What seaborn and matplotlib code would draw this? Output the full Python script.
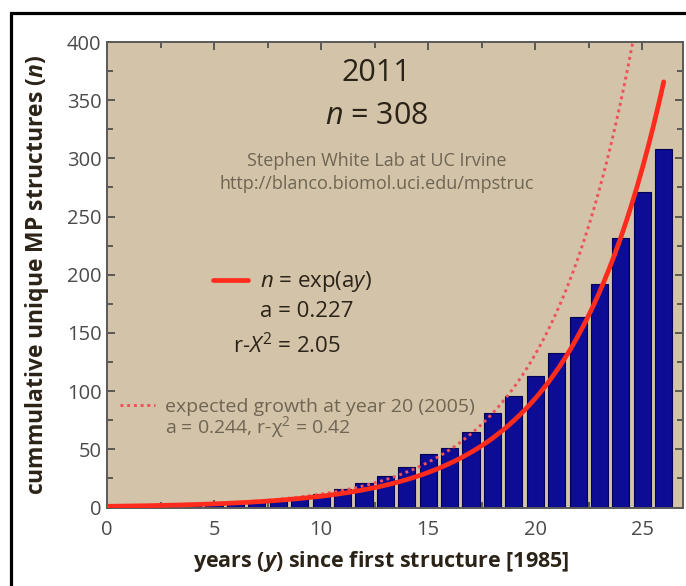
import numpy as np
import matplotlib
matplotlib.use("Agg")
import matplotlib.pyplot as plt
from matplotlib.lines import Line2D
from matplotlib.patches import Rectangle
from matplotlib.ticker import MultipleLocator
import seaborn as sns

# cumulative unique membrane protein structures per year since 1985
years = list(range(0, 27))
counts = [1, 1, 1, 2, 2, 2, 3, 5, 6, 9, 12, 16, 21, 27, 35, 46, 51, 65,
          81, 96, 113, 133, 164, 192, 232, 271, 308]

# fit parameters shown on the chart
a_fit = 0.227          # n = exp(a y), 2011 fit
a_2005 = 0.244         # expected growth fitted at year 20
fit_end = 26

sns.set_style("ticks")
plt.rcParams['font.family'] = ['Open Sans', 'DejaVu Sans']
plt.rcParams['mathtext.fontset'] = 'custom'
plt.rcParams['mathtext.rm'] = 'Open Sans'
plt.rcParams['mathtext.it'] = 'Open Sans:italic'
plt.rcParams['mathtext.bf'] = 'Open Sans:italic:bold'

TAN = '#D3C3A9'
BAR = '#0C0C94'
RED = '#FF2B1C'
DOT = '#F0505A'
DARK = '#2B2318'
GRAY = '#6F6553'
DOTS = (0, (1, 1.3))

fig = plt.figure(figsize=(6.86, 5.86), dpi=100)
ax = fig.add_axes([107 / 686, 1 - 507.5 / 586, 576 / 686, 465.5 / 586])
ax.set_facecolor(TAN)

sns.barplot(x=years, y=counts, native_scale=True, width=0.8, color=BAR,
            saturation=1, edgecolor='#000055', linewidth=0.8,
            errorbar=None, ax=ax, zorder=2)

yy = np.linspace(0, fit_end, 300)
sns.lineplot(x=yy, y=np.exp(a_fit * yy), color=RED, lw=3.4, ax=ax, zorder=4)
sns.lineplot(x=yy, y=np.exp(a_2005 * yy), color=DOT, lw=2.1, ax=ax,
             zorder=3, linestyle=DOTS)

ax.set_xlim(0, 26.9)
ax.set_ylim(0, 400)
ax.xaxis.set_major_locator(MultipleLocator(5))
ax.xaxis.set_minor_locator(MultipleLocator(2.5))
ax.yaxis.set_major_locator(MultipleLocator(50))
ax.yaxis.set_minor_locator(MultipleLocator(25))
ax.tick_params(which='both', direction='in', top=True, right=True,
               color='#3b3b3b', width=1.1)
ax.tick_params(which='major', length=6)
ax.tick_params(which='minor', length=4.5)
ax.tick_params(axis='x', which='major', pad=9, labelsize=14.5, labelcolor='#4A4A4A')
ax.tick_params(axis='y', which='major', pad=4, labelsize=14.5, labelcolor='#4A4A4A')
for s in ax.spines.values():
    s.set_color('#5a5a5a')
    s.set_linewidth(1.4)

ax.set_xlabel('years ($\\mathbf{y}$) since first structure [1985]',
              fontsize=15.5, fontweight='bold', color=DARK, va='center')
ax.xaxis.set_label_coords(0.4757, -0.117)
ax.set_ylabel('cummulative unique MP structures ($\\mathbf{n}$)',
              fontsize=16.5, fontweight='bold', color=DARK, va='center')
ax.yaxis.set_label_coords(-0.1215, 0.5)

ax.text(12.6, 373, '2011', ha='center', va='center', fontsize=22, color=DARK)
ax.text(12.6, 336, '$n$ = 308', ha='center', va='center', fontsize=22, color=DARK)
ax.text(12.6, 298, 'Stephen White Lab at UC Irvine', ha='center', va='center',
        fontsize=13, color=GRAY)
ax.text(12.6, 278, 'http://blanco.biomol.uci.edu/mpstruc', ha='center',
        va='center', fontsize=13, color=GRAY)

fs1 = 16
leg1 = ax.legend(handles=[Line2D([], [], color=RED, lw=3.4)],
                 labels=['$n$ = exp(a$y$)'], loc='center left',
                 bbox_to_anchor=(0.184, 0.4845), frameon=False, fontsize=fs1,
                 handlelength=35 / (fs1 / 0.72), handletextpad=12 / (fs1 / 0.72),
                 borderpad=0, borderaxespad=0, labelcolor=DARK)
ax.add_artist(leg1)
ax.text(7.15, 168.5, 'a = 0.227', ha='left', va='center', fontsize=fs1, color=DARK)
ax.text(5.89, 139.4, 'r-$X^2$ = 2.05', ha='left', va='center', fontsize=fs1, color=DARK)

fs2 = 14
ax.legend(handles=[Line2D([], [], color=DOT, lw=2.1, linestyle=DOTS)],
          labels=['expected growth at year 20 (2005)'], loc='center left',
          bbox_to_anchor=(0.0226, 0.216), frameon=False, fontsize=fs2,
          handlelength=35 / (fs2 / 0.72), handletextpad=10 / (fs2 / 0.72),
          borderpad=0, borderaxespad=0, labelcolor=GRAY)
ax.text(2.71, 69, 'a = 0.244, r-χ$^2$ = 0.42', ha='left', va='center',
        fontsize=fs2, color=GRAY)

# black frame around the figure (cut off on right and bottom)
fig.add_artist(Rectangle((11 / 686, -0.1), 1.0, 1.1 - 13 / 586,
                         transform=fig.transFigure, fill=False,
                         edgecolor='black', lw=2.3, clip_on=False))

fig.savefig('out.png', dpi=100)
